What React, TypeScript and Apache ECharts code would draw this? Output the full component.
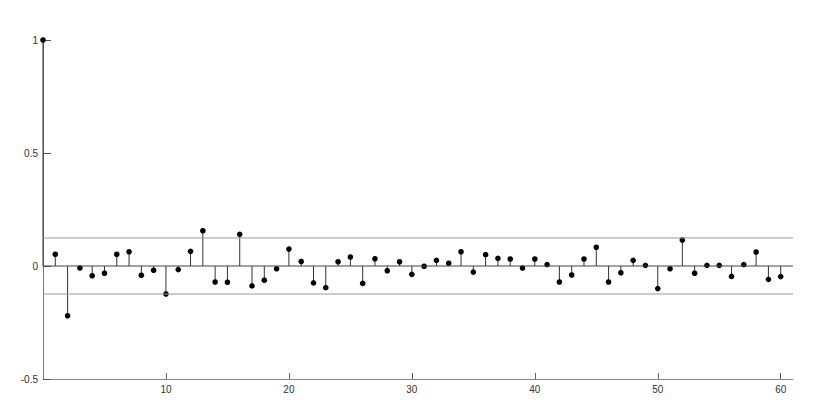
import React, { useEffect, useRef } from "react";
import * as echarts from "echarts";

const lags: number[] = Array.from({ length: 61 }, (_, i) => i);
const acf: number[] = [
  1,
  0.052, -0.22, -0.009, -0.043, -0.032, 0.052, 0.063, -0.041, -0.019, -0.124,
  -0.016, 0.065, 0.156, -0.071, -0.072, 0.14, -0.088, -0.063, -0.012, 0.075,
  0.02, -0.075, -0.096, 0.019, 0.04, -0.077, 0.032, -0.021, 0.019, -0.037,
  -0.001, 0.025, 0.012, 0.063, -0.027, 0.05, 0.034, 0.031, -0.009, 0.031,
  0.006, -0.071, -0.04, 0.031, 0.083, -0.071, -0.03, 0.025, 0.003, -0.1,
  -0.012, 0.115, -0.032, 0.003, 0.003, -0.046, 0.006, 0.062, -0.059, -0.047,
];
const confBound = 0.124;
const xTicks: number[] = [10, 20, 30, 40, 50, 60];

export default function App() {
  const ref = useRef<HTMLDivElement>(null);
  useEffect(() => {
    if (!ref.current) return;
    const chart = echarts.init(ref.current, null, { renderer: "svg" });
    const stemData = lags.map((l, i) => [l, acf[i]]);
    const font = "Liberation Sans, Arial, sans-serif";
    chart.setOption({
      animation: false,
      backgroundColor: "#ffffff",
      grid: { left: 43, right: 37, top: 40, bottom: 36, containLabel: false },
      xAxis: {
        type: "value",
        min: 0,
        max: 61,
        interval: 10,
        axisLine: { show: true, onZero: false, lineStyle: { color: "#888", width: 1 } },
        axisTick: {
          show: true,
          inside: true,
          length: 6,
          lineStyle: { color: "#666" },
          customValues: xTicks,
        },
        axisLabel: {
          color: "#333",
          fontSize: 10,
          fontFamily: font,
          margin: 5,
          customValues: xTicks,
        },
        splitLine: { show: false },
      },
      yAxis: {
        type: "value",
        min: -0.5,
        max: 1,
        interval: 0.5,
        axisLine: { show: true, onZero: false, lineStyle: { color: "#777", width: 1 } },
        axisTick: {
          show: true,
          inside: true,
          length: 8,
          lineStyle: { color: "#555" },
        },
        axisLabel: {
          color: "#333",
          fontSize: 10,
          fontFamily: font,
          margin: 5,
        },
        splitLine: { show: false },
      },
      series: [
        {
          type: "line",
          data: [[0, confBound], [61, confBound]],
          showSymbol: false,
          symbol: "none",
          lineStyle: { color: "#999", width: 1 },
          silent: true,
        },
        {
          type: "line",
          data: [[0, -confBound], [61, -confBound]],
          showSymbol: false,
          symbol: "none",
          lineStyle: { color: "#999", width: 1 },
          silent: true,
        },
        {
          type: "line",
          data: [[0, 0], [61, 0]],
          showSymbol: false,
          symbol: "none",
          lineStyle: { color: "#444", width: 1 },
          silent: true,
        },
        {
          type: "custom",
          data: stemData,
          z: 3,
          renderItem: (params: any, api: any) => {
            const x = api.value(0);
            const y = api.value(1);
            const p = api.coord([x, y]);
            const z = api.coord([x, 0]);
            return {
              type: "group",
              children: [
                {
                  type: "line",
                  shape: { x1: z[0], y1: z[1], x2: p[0], y2: p[1] },
                  style: { stroke: "#333", lineWidth: 1 },
                },
                {
                  type: "circle",
                  shape: { cx: p[0], cy: p[1], r: 2.8 },
                  style: { fill: "#000" },
                },
              ],
            };
          },
        },
      ],
    });
    return () => chart.dispose();
  }, []);
  return <div ref={ref} style={{ width: 830, height: 415, position: "absolute", left: 0, top: 0 }} />;
}
